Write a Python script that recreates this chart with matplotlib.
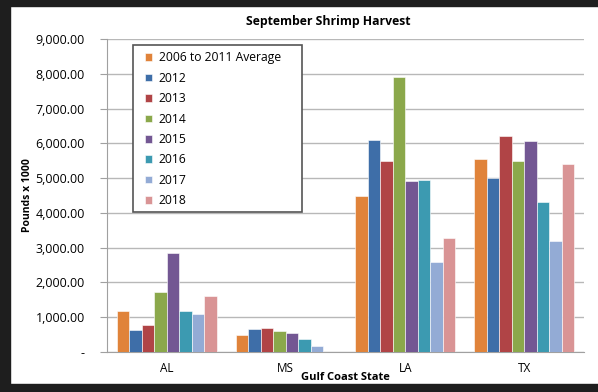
import matplotlib
matplotlib.use("Agg")
import matplotlib.pyplot as plt
import numpy as np
from matplotlib.patches import Rectangle
from matplotlib.ticker import FuncFormatter

states = ["AL", "MS", "LA", "TX"]
series_names = ["2006 to 2011 Average", "2012", "2013", "2014", "2015", "2016", "2017", "2018"]
avg_2006_2011 = [1180, 490, 4480, 5560]
y2012 = [640, 660, 6100, 5000]
y2013 = [780, 700, 5480, 6220]
y2014 = [1720, 600, 7920, 5500]
y2015 = [2840, 550, 4920, 6060]
y2016 = [1180, 370, 4950, 4300]
y2017 = [1100, 170, 2580, 3200]
y2018 = [1620, 0, 3290, 5420]
colors = ["#E0833A", "#3E6EA8", "#B04446", "#8BA84B", "#735793", "#3C9AB1", "#93ABD5", "#D99495"]

series = [avg_2006_2011, y2012, y2013, y2014, y2015, y2016, y2017, y2018]

plt.rcParams['font.family'] = ['Open Sans', 'DejaVu Sans']

W, H = 598, 392
fig = plt.figure(figsize=(W/100, H/100), dpi=100)
# dark frame
fig.patches.append(Rectangle((0, 0), 10/W, 1, transform=fig.transFigure, color="#1e1e1e", zorder=0))
fig.patches.append(Rectangle((0, 1-6/H), 1, 6/H, transform=fig.transFigure, color="#1e1e1e", zorder=0))
fig.patches.append(Rectangle((0, 0), 1, 8/H, transform=fig.transFigure, color="#1e1e1e", zorder=0))

ax = fig.add_axes([107/W, 1-352/H, (584-107)/W, (352-39)/H])
x = np.arange(len(states))
w = 0.105
n = len(series)
for i, (vals, c, name) in enumerate(zip(series, colors, series_names)):
    ax.bar(x + (i - (n-1)/2) * w, vals, width=w, color=c, edgecolor="white", linewidth=0.4, label=name, zorder=3)

ax.set_xlim(-0.5, 3.5)
ax.set_ylim(0, 9000)
ax.set_yticks(np.arange(0, 9001, 1000))
ax.yaxis.set_major_formatter(FuncFormatter(lambda v, p: "-" if v == 0 else f"{v:,.2f}"))
ax.grid(axis="y", color="#b8b8b8", linewidth=1, zorder=0)
for s in ["top", "right"]:
    ax.spines[s].set_visible(False)
ax.spines["left"].set_color("#a0a0a0")
ax.spines["bottom"].set_color("#a0a0a0")
ax.tick_params(axis="y", length=5, color="#a0a0a0", labelsize=9, pad=11)
ax.tick_params(axis="x", length=0, labelsize=8.5, pad=7)
ax.set_xticks(x)
ax.set_xticklabels(states)
fig.text(28/W, 1-195/H, "Pounds x 1000", rotation=90, ha="center", va="center", fontsize=7.5, fontweight="bold")
fig.text(345/W, 1-377/H, "Gulf Coast State", ha="center", va="center", fontsize=8, fontweight="bold")
fig.text(328/W, 1-21/H, "September Shrimp Harvest", ha="center", va="center", fontsize=8.8, fontweight="bold")

# legend frame drawn as a box, entries placed inside
box = Rectangle((133/W, 1-212/H), (302-133)/W, (212-45)/H, transform=fig.transFigure,
                facecolor="white", edgecolor="#555555", linewidth=1.2, zorder=4, clip_on=False)
ax.add_artist(box)
leg = ax.legend(loc="upper left", bbox_to_anchor=(145/W, 1-51.5/H), bbox_transform=fig.transFigure,
                frameon=False, fontsize=8.7, handlelength=0.6, handleheight=0.6, labelspacing=0.61,
                borderpad=0.0, handletextpad=0.55, borderaxespad=0)
leg.set_zorder(6)

fig.savefig("out.png", dpi=100)
